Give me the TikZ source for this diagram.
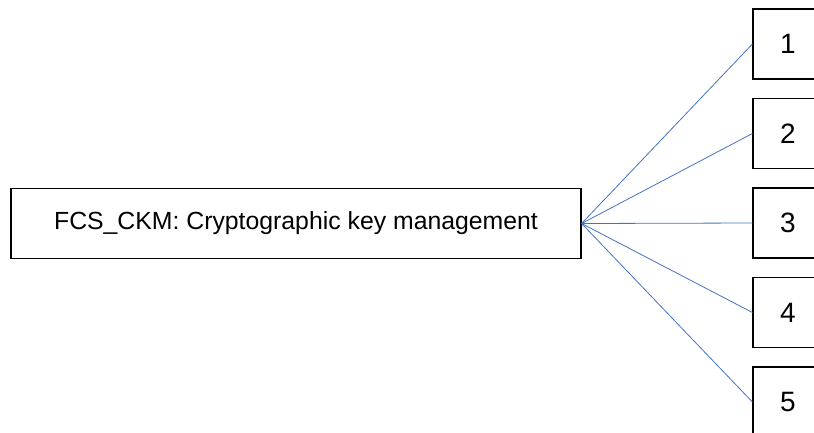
\documentclass[tikz,border=0pt]{standalone}
\usepackage{fontspec}
\setmainfont{Liberation Sans}
\usetikzlibrary{positioning}
\definecolor{linkblue}{RGB}{68,114,196}

\begin{document}
\begin{tikzpicture}[x=1pt,y=-1pt,node distance=89.5pt,on grid,
    box/.style={draw,line width=1.2pt,minimum width=70pt,minimum height=70pt,
      inner sep=0pt,font=\fontsize{28}{32}\selectfont},
    link/.style={draw=linkblue,line width=0.8pt}]
    \useasboundingbox (0,0) rectangle (814,432);
    \node[box,minimum width=570pt,font=\fontsize{24.8}{29}\selectfont] (ckm) at (296,223.5)
      {FCS\_CKM: Cryptographic key management};
    \node[box] (k1) at (788,44) {1};
    \node[box] (k2) [below=of k1] {2};
    \node[box] (k3) [below=of k2] {3};
    \node[box] (k4) [below=of k3] {4};
    \node[box] (k5) [below=of k4] {5};

    \foreach \i in {1,...,5}
      \path[link] (ckm.east) -- (k\i.west);
\end{tikzpicture}
\end{document}
